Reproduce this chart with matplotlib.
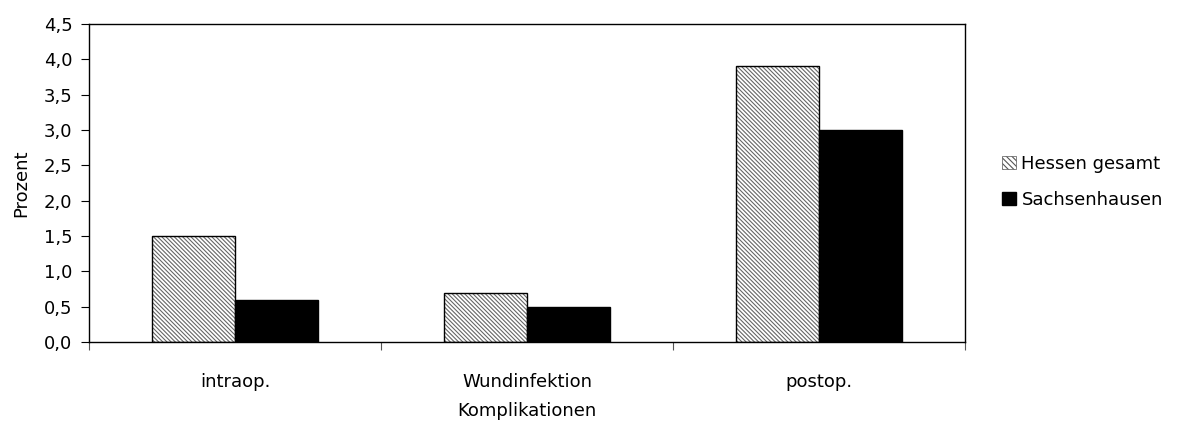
import matplotlib.pyplot as plt
import numpy as np
from matplotlib.patches import Patch

plt.rcParams['font.family'] = ['DejaVu Sans']
plt.rcParams['hatch.linewidth'] = 0.8

categories = ['intraop.', 'Wundinfektion', 'postop.']
hessen = [1.5, 0.7, 3.9]
sachsenhausen = [0.6, 0.5, 3.0]
series_names = ['Hessen gesamt', 'Sachsenhausen']

fig = plt.figure(figsize=(11.78, 4.23), dpi=100)
ax = fig.add_axes([0.0756, 0.1915, 0.7436, 0.7518])

hatch = '\\' * 8
x = np.arange(len(categories))
w = 1 / 3.5
ax.bar(x - w / 2, hessen, w, color='white', edgecolor='#666666', hatch=hatch, linewidth=0)
ax.bar(x - w / 2, hessen, w, color='none', edgecolor='black', linewidth=1)
ax.bar(x + w / 2, sachsenhausen, w, color='black', edgecolor='black', linewidth=1)

ax.set_xlim(-0.5, len(categories) - 0.5)
ax.set_ylim(0, 4.5)
ax.set_yticks(np.arange(0, 4.51, 0.5))
ax.set_yticklabels([f'{v:.1f}'.replace('.', ',') for v in np.arange(0, 4.51, 0.5)])
ax.set_xticks(np.arange(-0.5, len(categories), 1.0))
ax.set_xticklabels([])
ax.set_xticks(x, minor=True)
ax.set_xticklabels(categories, minor=True)
ax.tick_params(axis='x', which='minor', length=0, pad=22, labelsize=13)
ax.tick_params(axis='x', which='major', length=6, direction='out', color='#555555')
ax.tick_params(axis='y', length=6, direction='out', labelsize=13, pad=6)
for s in ax.spines.values():
    s.set_linewidth(1)
ax.set_xlabel('Komplikationen', fontsize=13, labelpad=8)
ax.set_ylabel('Prozent', fontsize=13, labelpad=10)

handles = [Patch(facecolor='white', edgecolor='#555555', hatch='\\' * 6, linewidth=0.5),
           Patch(facecolor='black', edgecolor='black')]
fig.legend(handles, series_names, loc='center left', bbox_to_anchor=(0.851, 0.57),
           frameon=False, fontsize=13, handlelength=0.75, handleheight=0.75,
           handletextpad=0.3, labelspacing=1.0, borderpad=0, borderaxespad=0)

fig.savefig('out.png', dpi=100)
